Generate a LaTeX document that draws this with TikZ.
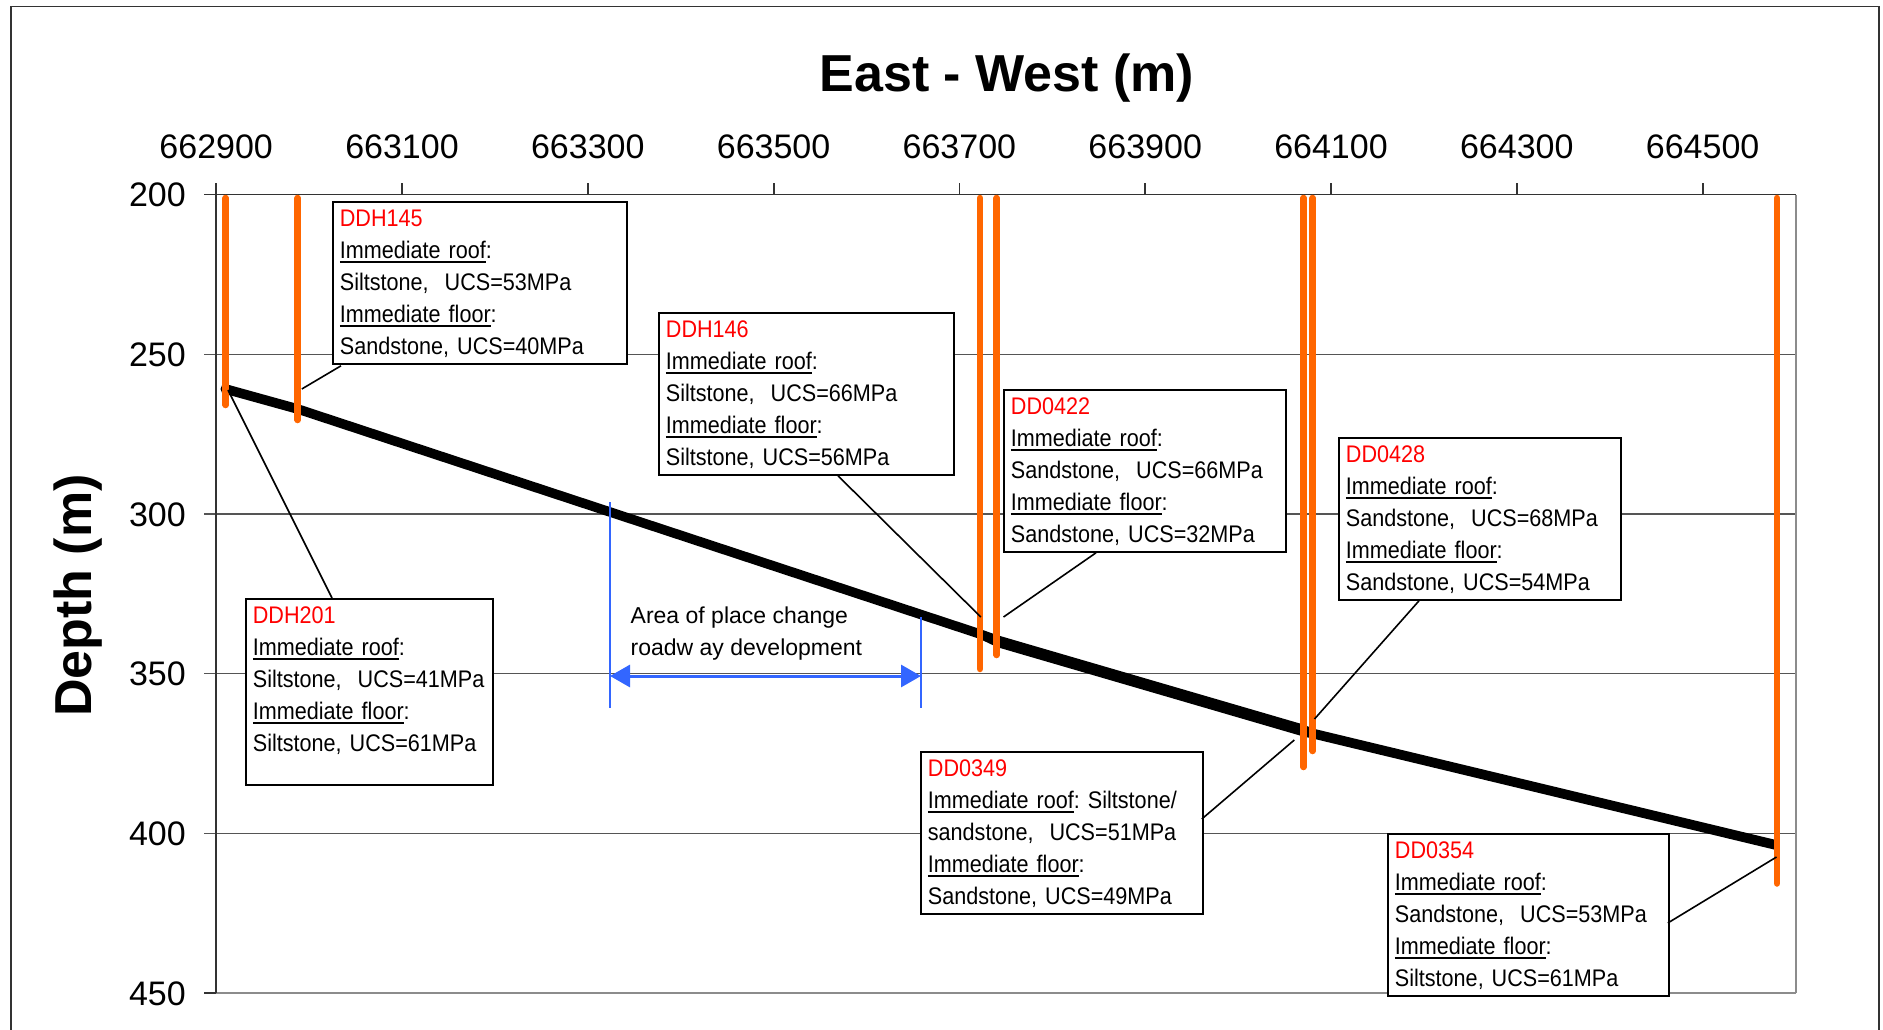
\documentclass[tikz,border=0pt]{standalone}
\usepackage{fontspec}
\setmainfont{Liberation Sans}
\newfontfamily\boxfont[FakeStretch=0.9]{Liberation Sans}
\usetikzlibrary{calc,arrows.meta}

\definecolor{bhorange}{HTML}{FF6600}
\definecolor{devblue}{HTML}{3366FF}
\definecolor{gridgray}{HTML}{555555}
\definecolor{axisgray}{HTML}{333333}
\definecolor{bordergray}{HTML}{8C8C8C}
\definecolor{holered}{HTML}{FF0000}

% underlined label word with a firm rule
\newcommand{\ulword}[1]{\leavevmode\setbox0\hbox{#1}\rlap{\rule[-4.6pt]{\wd0}{1.8pt}}\copy0}
% line struts for the info boxes
\newcommand{\topstrut}{\leavevmode\rule[-8.4pt]{0pt}{32pt}}
\newcommand{\tallstrut}{\rule[-32.4pt]{0pt}{32.4pt}}
\newcommand{\holename}[1]{\textcolor{holered}{#1}}

\tikzset{
  frameline/.style={draw=axisgray, line width=1.8pt},
  gridline/.style={draw=gridgray, line width=1.5pt},
  axisline/.style={draw=axisgray, line width=1.8pt},
  borderline/.style={draw=bordergray, line width=2pt},
  ticklabel/.style={font=\fontsize{34}{40}\selectfont, inner sep=0pt},
  axistitle/.style={font=\bfseries\fontsize{52}{60}\selectfont, inner sep=0pt},
  borehole/.style={draw=bhorange, line width=6.5pt, line cap=round},
  leader/.style={draw=black, line width=1.6pt},
  infobox/.style={draw=black, line width=1.8pt, fill=white, anchor=north west,
    inner xsep=7pt, inner ysep=1pt, align=left,
    font=\boxfont\fontsize{24}{32}\selectfont\frenchspacing},
  devline/.style={draw=devblue, line width=1.6pt},
  devarrow/.style={draw=devblue, line width=3pt,
    {Triangle[length=20pt,width=22pt]}-{Triangle[length=20pt,width=22pt]}},
  devtext/.style={font=\fontsize{23}{30}\selectfont, inner sep=0pt, anchor=base west},
}

\begin{document}
\begin{tikzpicture}[x=1pt, y=-1pt]
\useasboundingbox (0,0) rectangle (1883,1030);

% outer chart frame (open at the bottom edge of the page)
\draw[frameline] (10.7,1030) -- (10.7,6.5) -- (1879.3,6.5) -- (1879.3,1030);

% titles
\node[axistitle, anchor=base] (xtitle) at (1007,92) {East - West (m)};
\node[axistitle, rotate=90, anchor=base] (ytitle) at (91.5,595.5) {Depth (m)};

% horizontal grid lines with their left ticks
\foreach \yy in {354.3,514,673.7,833.4}
  \draw[gridline] (204,\yy) -- (1796,\yy);

% plot border: right and bottom
\draw[borderline] (1796,194.6) -- (1796,993.1);
\draw[borderline] (216.2,993.1) -- (1796,993.1);
\draw[axisline] (204,993.1) -- (216.2,993.1);

% top axis with ticks, left axis
\draw[axisline] (204,194.6) -- (1796,194.6);
\foreach \k in {1,...,8}
  \draw[axisline] ({216.2+185.8*\k},183.5) -- ({216.2+185.8*\k},194.6);
\draw[axisline] (216.2,183.5) -- (216.2,993.1);

% easting labels
\foreach \k/\lab in {0/662900,1/663100,2/663300,3/663500,4/663700,5/663900,6/664100,7/664300,8/664500}
  \node[ticklabel, anchor=base] (xl\k) at ({216.2+185.8*\k},159) {\lab};

% depth labels
\foreach \lab/\yy in {200/194.6,250/354.3,300/514,350/673.7,400/833.4,450/993.1}
  \node[ticklabel, anchor=base east] (yl\lab) at (186,{\yy+12.2}) {\lab};

% coal seam
\fill[black] (225.5,384) -- (297.7,404) -- (980,629) -- (996.7,635) -- (1303.3,724.5)
  -- (1312.7,728.5) -- (1776,840) -- (1776,850) -- (1312.7,738.5) -- (1303.3,736.5)
  -- (996.7,647) -- (980,639) -- (297.7,414) -- (225.5,394) -- cycle;
\fill[black] (225.5,389) circle (5);

% boreholes
\foreach \n/\xx/\yb in {ddh201/225.7/405, ddh145/297.7/420, ddh146/980/669, dd0422/996.7/655,
                        dd0349/1303.5/767, dd0428/1312.7/751, dd0354/1777/883.5} {
  \coordinate (\n top) at (\xx,198);
  \coordinate (\n bot) at (\xx,\yb);
  \draw[borehole] (\n top) -- (\n bot);
}

% place change development extent
\coordinate (devLtop) at (610,502);
\coordinate (devLbot) at (610,708);
\coordinate (devRtop) at (921,617);
\coordinate (devRbot) at (921,708);
\coordinate (devLarr) at (610,676);
\coordinate (devRarr) at (921,676);
\draw[devline] (devLtop) -- (devLbot);
\draw[devline] (devRtop) -- (devRbot);
\draw[devarrow] (devLarr) -- (devRarr);
\node[devtext] (devtext1) at (630.5,623.5) {Area of place change};
\node[devtext] (devtext2) at (630.5,655.5) {roadw ay development};

% leader lines from boxes to the seam intersections
\coordinate (tipddh201) at (228,390);
\coordinate (tipddh145) at (301.8,389);
\coordinate (tipddh146) at (980.8,617);
\coordinate (tipdd0422) at (1003.5,617);
\coordinate (tipdd0428) at (1314.5,719);
\coordinate (tipdd0349) at (1294.3,740);
\coordinate (tipdd0354) at (1776.5,857);

% information boxes
\node[infobox, text width=280pt] (boxddh145) at (332,201)
  {\topstrut\holename{DDH145}\\ \ulword{Immediate roof}:\\ Siltstone,\ \ UCS=53MPa\\
   \ulword{Immediate floor}:\\ Sandstone, UCS=40MPa\topstrut};
\node[infobox, text width=281pt] (boxddh146) at (658,312)
  {\topstrut\holename{DDH146}\\ \ulword{Immediate roof}:\\ Siltstone,\ \ UCS=66MPa\\
   \ulword{Immediate floor}:\\ Siltstone, UCS=56MPa\topstrut};
\node[infobox, text width=268pt] (boxdd0422) at (1003,389)
  {\topstrut\holename{DD0422}\\ \ulword{Immediate roof}:\\ Sandstone,\ \ UCS=66MPa\\
   \ulword{Immediate floor}:\\ Sandstone, UCS=32MPa\topstrut};
\node[infobox, text width=268pt] (boxdd0428) at (1338,437)
  {\topstrut\holename{DD0428}\\ \ulword{Immediate roof}:\\ Sandstone,\ \ UCS=68MPa\\
   \ulword{Immediate floor}:\\ Sandstone, UCS=54MPa\topstrut};
\node[infobox, text width=267pt] (boxdd0354) at (1387,833)
  {\topstrut\holename{DD0354}\\ \ulword{Immediate roof}:\\ Sandstone,\ \ UCS=53MPa\\
   \ulword{Immediate floor}:\\ Siltstone, UCS=61MPa\topstrut};
\node[infobox, text width=233pt] (boxddh201) at (245,598)
  {\topstrut\holename{DDH201}\\ \ulword{Immediate roof}:\\ Siltstone,\ \ UCS=41MPa\\
   \ulword{Immediate floor}:\\ Siltstone, UCS=61MPa\tallstrut};
\node[infobox, text width=268pt] (boxdd0349) at (920,751)
  {\topstrut\holename{DD0349}\\ \ulword{Immediate roof}: Siltstone/\\ sandstone,\ \ UCS=51MPa\\
   \ulword{Immediate floor}:\\ Sandstone, UCS=49MPa\topstrut};

\draw[leader] ($(boxddh201.north west)+(87,0)$) -- (tipddh201);
\draw[leader] ($(boxddh145.south west)+(9,1)$) -- (tipddh145);
\draw[leader] ($(boxddh146.south west)+(180,0)$) -- (tipddh146);
\draw[leader] ($(boxdd0422.south west)+(93,0)$) -- (tipdd0422);
\draw[leader] ($(boxdd0428.south west)+(81,0)$) -- (tipdd0428);
\draw[leader] ($(boxdd0349.north east)+(-2,68)$) -- (tipdd0349);
\draw[leader] ($(boxdd0354.north east)+(-2,90)$) -- (tipdd0354);
\end{tikzpicture}
\end{document}
